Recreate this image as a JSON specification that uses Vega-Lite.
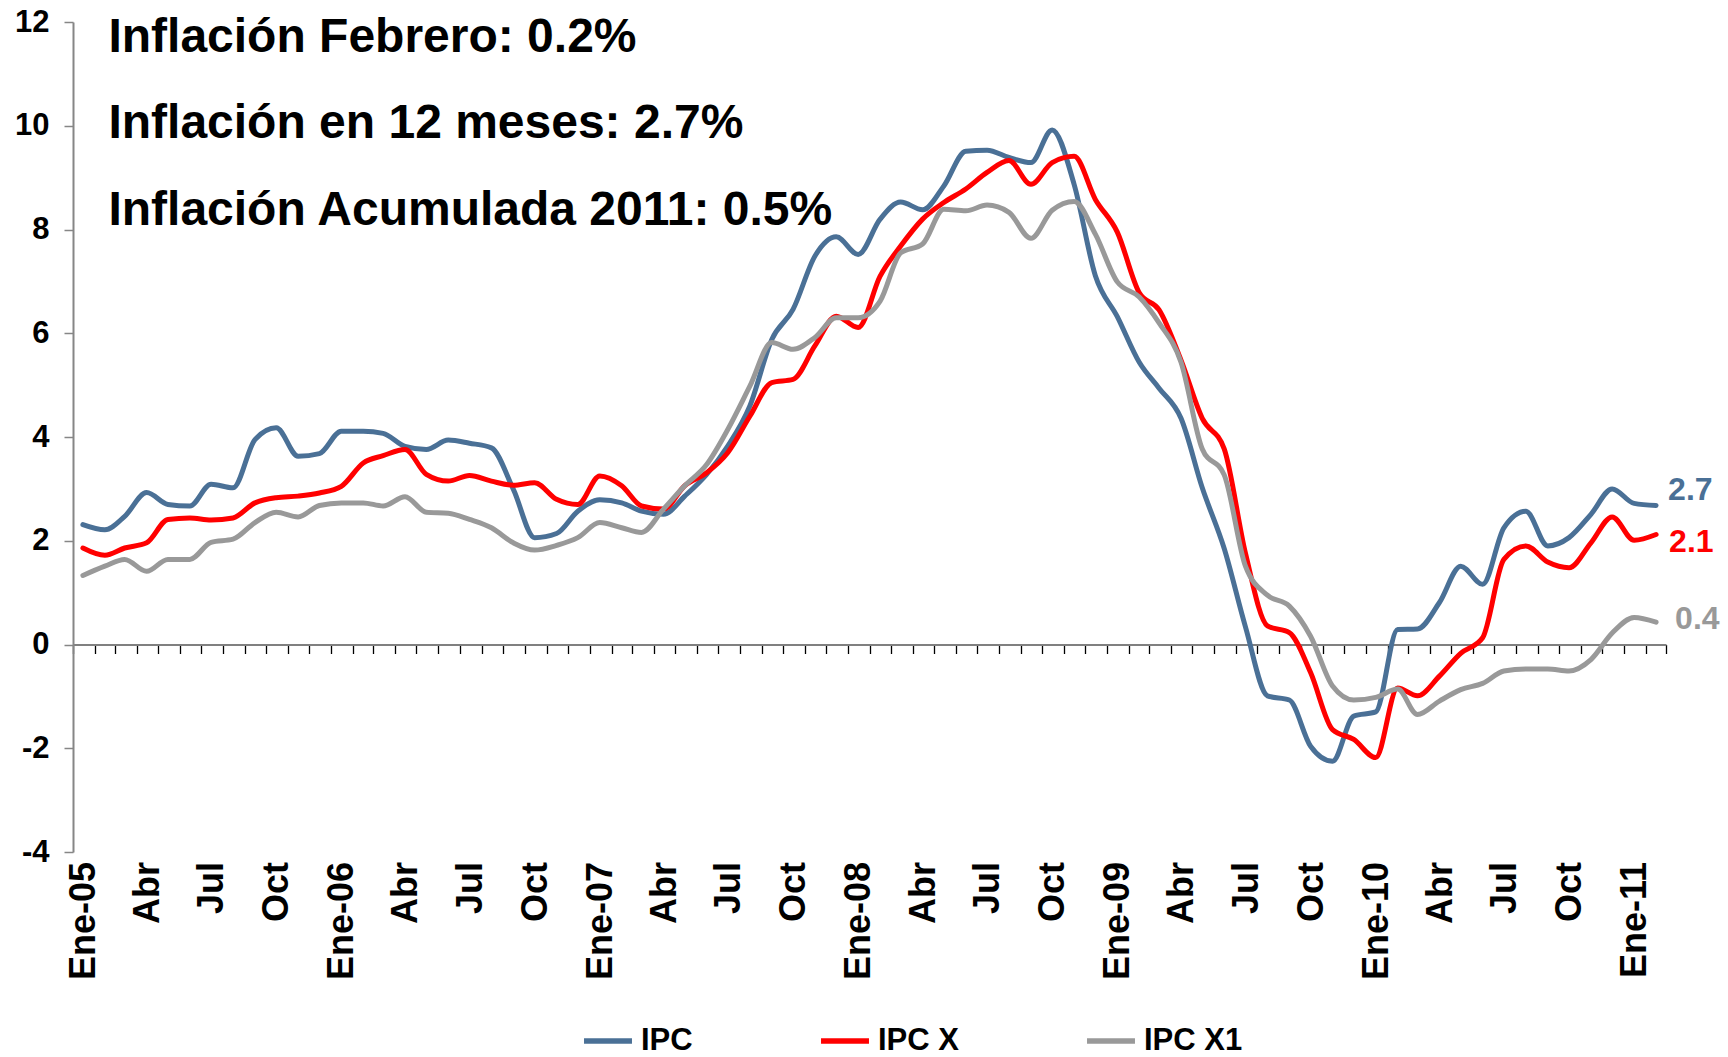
{
  "$schema": "https://vega.github.io/schema/vega-lite/v6.json",
  "width": 1593,
  "height": 830,
  "autosize": {"type": "none"},
  "padding": {"left": 73, "top": 22, "right": 62, "bottom": 205},
  "background": "white",
  "config": {"view": {"stroke": null}, "font": "Liberation Sans", "axis": {"grid": false}},
  "datasets": {
    "ipc": [
      {"fecha": "2005-01-15", "IPC": 2.31, "IPC X": 1.86, "IPC X1": 1.33},
      {"fecha": "2005-02-15", "IPC": 2.21, "IPC X": 1.72, "IPC X1": 1.51},
      {"fecha": "2005-03-15", "IPC": 2.47, "IPC X": 1.86, "IPC X1": 1.64},
      {"fecha": "2005-04-15", "IPC": 2.93, "IPC X": 1.96, "IPC X1": 1.41},
      {"fecha": "2005-05-15", "IPC": 2.70, "IPC X": 2.41, "IPC X1": 1.64},
      {"fecha": "2005-06-15", "IPC": 2.67, "IPC X": 2.44, "IPC X1": 1.64},
      {"fecha": "2005-07-15", "IPC": 3.09, "IPC X": 2.40, "IPC X1": 1.97},
      {"fecha": "2005-08-15", "IPC": 3.02, "IPC X": 2.44, "IPC X1": 2.03},
      {"fecha": "2005-09-15", "IPC": 3.95, "IPC X": 2.73, "IPC X1": 2.35},
      {"fecha": "2005-10-15", "IPC": 4.18, "IPC X": 2.83, "IPC X1": 2.55},
      {"fecha": "2005-11-15", "IPC": 3.63, "IPC X": 2.86, "IPC X1": 2.46},
      {"fecha": "2005-12-15", "IPC": 3.68, "IPC X": 2.92, "IPC X1": 2.68},
      {"fecha": "2006-01-15", "IPC": 4.11, "IPC X": 3.05, "IPC X1": 2.73},
      {"fecha": "2006-02-15", "IPC": 4.11, "IPC X": 3.50, "IPC X1": 2.73},
      {"fecha": "2006-03-15", "IPC": 4.07, "IPC X": 3.64, "IPC X1": 2.67},
      {"fecha": "2006-04-15", "IPC": 3.82, "IPC X": 3.76, "IPC X1": 2.85},
      {"fecha": "2006-05-15", "IPC": 3.76, "IPC X": 3.28, "IPC X1": 2.55},
      {"fecha": "2006-06-15", "IPC": 3.94, "IPC X": 3.15, "IPC X1": 2.53},
      {"fecha": "2006-07-15", "IPC": 3.88, "IPC X": 3.26, "IPC X1": 2.41},
      {"fecha": "2006-08-15", "IPC": 3.79, "IPC X": 3.15, "IPC X1": 2.25},
      {"fecha": "2006-09-15", "IPC": 2.99, "IPC X": 3.07, "IPC X1": 1.96},
      {"fecha": "2006-10-15", "IPC": 2.06, "IPC X": 3.12, "IPC X1": 1.82},
      {"fecha": "2006-11-15", "IPC": 2.14, "IPC X": 2.80, "IPC X1": 1.91},
      {"fecha": "2006-12-15", "IPC": 2.57, "IPC X": 2.70, "IPC X1": 2.06},
      {"fecha": "2007-01-15", "IPC": 2.79, "IPC X": 3.25, "IPC X1": 2.35},
      {"fecha": "2007-02-15", "IPC": 2.73, "IPC X": 3.06, "IPC X1": 2.25},
      {"fecha": "2007-03-15", "IPC": 2.57, "IPC X": 2.67, "IPC X1": 2.16},
      {"fecha": "2007-04-15", "IPC": 2.51, "IPC X": 2.61, "IPC X1": 2.61},
      {"fecha": "2007-05-15", "IPC": 2.86, "IPC X": 3.06, "IPC X1": 3.06},
      {"fecha": "2007-06-15", "IPC": 3.28, "IPC X": 3.31, "IPC X1": 3.47},
      {"fecha": "2007-07-15", "IPC": 3.83, "IPC X": 3.70, "IPC X1": 4.15},
      {"fecha": "2007-08-15", "IPC": 4.60, "IPC X": 4.40, "IPC X1": 4.98},
      {"fecha": "2007-09-15", "IPC": 5.88, "IPC X": 5.05, "IPC X1": 5.82},
      {"fecha": "2007-10-15", "IPC": 6.46, "IPC X": 5.11, "IPC X1": 5.69},
      {"fecha": "2007-11-15", "IPC": 7.49, "IPC X": 5.76, "IPC X1": 5.92},
      {"fecha": "2007-12-15", "IPC": 7.86, "IPC X": 6.33, "IPC X1": 6.30},
      {"fecha": "2008-01-15", "IPC": 7.52, "IPC X": 6.11, "IPC X1": 6.30},
      {"fecha": "2008-02-15", "IPC": 8.20, "IPC X": 7.10, "IPC X1": 6.62},
      {"fecha": "2008-03-15", "IPC": 8.53, "IPC X": 7.68, "IPC X1": 7.55},
      {"fecha": "2008-04-15", "IPC": 8.38, "IPC X": 8.20, "IPC X1": 7.72},
      {"fecha": "2008-05-15", "IPC": 8.84, "IPC X": 8.52, "IPC X1": 8.39},
      {"fecha": "2008-06-15", "IPC": 9.51, "IPC X": 8.78, "IPC X1": 8.36},
      {"fecha": "2008-07-15", "IPC": 9.53, "IPC X": 9.10, "IPC X1": 8.47},
      {"fecha": "2008-08-15", "IPC": 9.39, "IPC X": 9.33, "IPC X1": 8.33},
      {"fecha": "2008-09-15", "IPC": 9.29, "IPC X": 8.87, "IPC X1": 7.83},
      {"fecha": "2008-10-15", "IPC": 9.92, "IPC X": 9.29, "IPC X1": 8.37},
      {"fecha": "2008-11-15", "IPC": 8.87, "IPC X": 9.41, "IPC X1": 8.54},
      {"fecha": "2008-12-15", "IPC": 7.11, "IPC X": 8.58, "IPC X1": 7.91},
      {"fecha": "2009-01-15", "IPC": 6.32, "IPC X": 7.95, "IPC X1": 6.99},
      {"fecha": "2009-02-15", "IPC": 5.44, "IPC X": 6.78, "IPC X1": 6.70},
      {"fecha": "2009-03-15", "IPC": 4.94, "IPC X": 6.45, "IPC X1": 6.20},
      {"fecha": "2009-04-15", "IPC": 4.36, "IPC X": 5.48, "IPC X1": 5.44},
      {"fecha": "2009-05-15", "IPC": 3.02, "IPC X": 4.36, "IPC X1": 3.77},
      {"fecha": "2009-06-15", "IPC": 1.85, "IPC X": 3.77, "IPC X1": 3.27},
      {"fecha": "2009-07-15", "IPC": 0.34, "IPC X": 1.76, "IPC X1": 1.51},
      {"fecha": "2009-08-15", "IPC": -0.99, "IPC X": 0.36, "IPC X1": 0.95},
      {"fecha": "2009-09-15", "IPC": -1.07, "IPC X": 0.23, "IPC X1": 0.74},
      {"fecha": "2009-10-15", "IPC": -1.96, "IPC X": -0.54, "IPC X1": 0.16},
      {"fecha": "2009-11-15", "IPC": -2.25, "IPC X": -1.64, "IPC X1": -0.80},
      {"fecha": "2009-12-15", "IPC": -1.38, "IPC X": -1.83, "IPC X1": -1.07},
      {"fecha": "2010-01-15", "IPC": -1.30, "IPC X": -2.18, "IPC X1": -1.02},
      {"fecha": "2010-02-15", "IPC": 0.29, "IPC X": -0.84, "IPC X1": -0.86},
      {"fecha": "2010-03-15", "IPC": 0.30, "IPC X": -0.99, "IPC X1": -1.35},
      {"fecha": "2010-04-15", "IPC": 0.81, "IPC X": -0.61, "IPC X1": -1.09},
      {"fecha": "2010-05-15", "IPC": 1.51, "IPC X": -0.17, "IPC X1": -0.87},
      {"fecha": "2010-06-15", "IPC": 1.16, "IPC X": 0.13, "IPC X1": -0.75},
      {"fecha": "2010-07-15", "IPC": 2.25, "IPC X": 1.64, "IPC X1": -0.51},
      {"fecha": "2010-08-15", "IPC": 2.57, "IPC X": 1.90, "IPC X1": -0.47},
      {"fecha": "2010-09-15", "IPC": 1.90, "IPC X": 1.59, "IPC X1": -0.47},
      {"fecha": "2010-10-15", "IPC": 2.06, "IPC X": 1.48, "IPC X1": -0.51},
      {"fecha": "2010-11-15", "IPC": 2.51, "IPC X": 1.96, "IPC X1": -0.29},
      {"fecha": "2010-12-15", "IPC": 3.00, "IPC X": 2.46, "IPC X1": 0.22},
      {"fecha": "2011-01-15", "IPC": 2.72, "IPC X": 2.01, "IPC X1": 0.52},
      {"fecha": "2011-02-15", "IPC": 2.68, "IPC X": 2.12, "IPC X1": 0.43}
    ],
    "notas": [
      {"t": "Inflación Febrero: 0.2%", "fecha": "2005-02-20", "v": 11.43},
      {"t": "Inflación en 12 meses: 2.7%", "fecha": "2005-02-20", "v": 9.76},
      {"t": "Inflación Acumulada 2011: 0.5%", "fecha": "2005-02-20", "v": 8.09}
    ]
  },
  "encoding": {
    "x": {
      "field": "fecha",
      "type": "temporal",
      "scale": {"type": "utc", "domain": [{"year": 2005, "month": 1, "date": 1, "utc": true}, {"year": 2011, "month": 3, "date": 1, "utc": true}]},
      "axis": {
        "title": null,
        "offset": -207.5,
        "tickCount": {"interval": "month", "step": 1},
        "domainColor": "#808080",
        "domainWidth": 2,
        "tickColor": "#000000",
        "tickWidth": 1.3,
        "tickSize": 9,
        "labelAngle": 270,
        "labelExpr": "utcmonth(datum.value) == 0 ? 'Ene-' + utcFormat(datum.value, '%y') : utcmonth(datum.value) == 3 ? 'Abr' : utcmonth(datum.value) == 6 ? 'Jul' : utcmonth(datum.value) == 9 ? 'Oct' : ''",
        "labelOffset": 10.5,
        "labelPadding": 208,
        "labelFont": "Liberation Sans",
        "labelFontWeight": "bold",
        "labelFontSize": 36,
        "labelColor": "#000000",
        "labelOverlap": false,
        "labelFlush": false,
        "labelBound": false
      }
    },
    "y": {
      "field": "v",
      "type": "quantitative",
      "scale": {"domain": [-4, 12], "nice": false, "zero": false},
      "axis": {
        "title": null,
        "values": [-4, -2, 0, 2, 4, 6, 8, 10, 12],
        "labelExpr": "'' + datum.value",
        "domainColor": "#868686",
        "domainWidth": 2,
        "tickColor": "#868686",
        "tickWidth": 1.5,
        "tickSize": 9,
        "labelFont": "Liberation Sans",
        "labelFontWeight": "bold",
        "labelFontSize": 31,
        "labelColor": "#000000",
        "labelPadding": 15
      }
    }
  },
  "layer": [
    {
      "data": {"name": "ipc"},
      "transform": [{"fold": ["IPC", "IPC X", "IPC X1"], "as": ["serie", "v"]}],
      "mark": {"type": "line", "strokeWidth": 5, "interpolate": "monotone", "strokeCap": "round", "strokeJoin": "round"},
      "encoding": {
        "color": {
          "field": "serie",
          "type": "nominal",
          "scale": {"domain": ["IPC", "IPC X", "IPC X1"], "range": ["#4A7096", "#FF0000", "#999999"]},
          "legend": {
            "orient": "none",
            "legendX": 508,
            "legendY": 992,
            "direction": "horizontal",
            "title": null,
            "symbolType": "stroke",
            "symbolSize": 2300,
            "symbolStrokeWidth": 5.5,
            "labelFont": "Liberation Sans",
            "labelFontSize": 31,
            "labelFontWeight": "bold",
            "labelColor": "#000000",
            "labelOffset": 6,
            "columnPadding": 117,
            "padding": 0
          }
        }
      }
    },
    {
      "data": {"name": "notas"},
      "mark": {"type": "text", "align": "left", "baseline": "alphabetic", "font": "Liberation Sans", "fontSize": 48, "fontWeight": "bold", "color": "#000000"},
      "encoding": {"text": {"field": "t", "type": "nominal"}}
    },
    {
      "data": {"name": "ipc"},
      "transform": [
        {"fold": ["IPC", "IPC X", "IPC X1"], "as": ["serie", "v"]},
        {"filter": "datum.serie == 'IPC' && utcyear(datum.fecha) == 2011 && utcmonth(datum.fecha) == 1"}
      ],
      "mark": {"type": "text", "align": "left", "baseline": "middle", "dx": 12, "dy": -15, "font": "Liberation Sans", "fontSize": 32, "fontWeight": "bold", "color": "#4A7096"},
      "encoding": {"text": {"field": "v", "type": "quantitative", "format": ".1f"}}
    },
    {
      "data": {"name": "ipc"},
      "transform": [
        {"fold": ["IPC", "IPC X", "IPC X1"], "as": ["serie", "v"]},
        {"filter": "datum.serie == 'IPC X' && utcyear(datum.fecha) == 2011 && utcmonth(datum.fecha) == 1"}
      ],
      "mark": {"type": "text", "align": "left", "baseline": "middle", "dx": 13, "dy": 7, "font": "Liberation Sans", "fontSize": 32, "fontWeight": "bold", "color": "#FF0000"},
      "encoding": {"text": {"field": "v", "type": "quantitative", "format": ".1f"}}
    },
    {
      "data": {"name": "ipc"},
      "transform": [
        {"fold": ["IPC", "IPC X", "IPC X1"], "as": ["serie", "v"]},
        {"filter": "datum.serie == 'IPC X1' && utcyear(datum.fecha) == 2011 && utcmonth(datum.fecha) == 1"}
      ],
      "mark": {"type": "text", "align": "left", "baseline": "middle", "dx": 19, "dy": -3, "font": "Liberation Sans", "fontSize": 32, "fontWeight": "bold", "color": "#999999"},
      "encoding": {"text": {"field": "v", "type": "quantitative", "format": ".1f"}}
    }
  ]
}
